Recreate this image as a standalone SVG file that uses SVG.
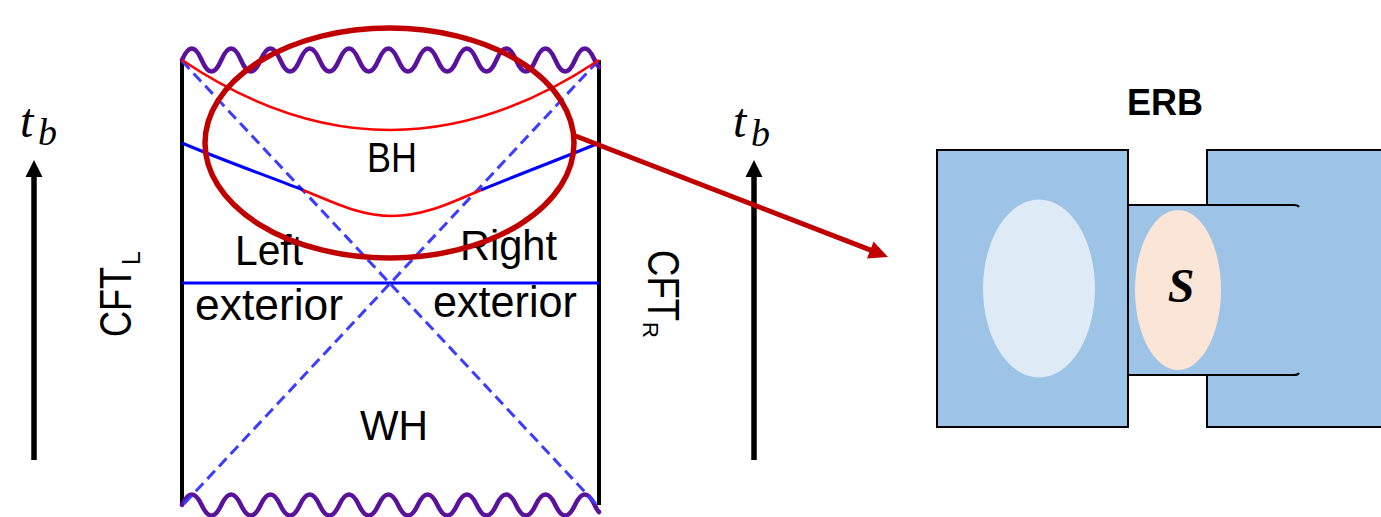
<svg xmlns="http://www.w3.org/2000/svg" width="1381" height="517" viewBox="0 0 1381 517">
<defs>
<style>
.lbl{font-family:"Liberation Sans",Arial,sans-serif;fill:#000}
.math{font-family:"Liberation Serif","Times New Roman",serif;font-style:italic;fill:#000}
.wave{fill:none;stroke:#5a129c;stroke-width:4.5;stroke-linecap:round}
.edge{stroke:#000;stroke-width:4}
.dash{stroke:#3c3cff;stroke-width:3;stroke-dasharray:11 6;fill:none}
.blue{stroke:#0000ff;stroke-width:3;fill:none}
.red{stroke:#ff0000;stroke-width:2.6;fill:none}
.box{fill:#9dc3e6;stroke:#000;stroke-width:2}
</style>
</defs>
<rect x="0" y="0" width="1381" height="517" fill="#fff"/>

<g id="penrose">
<line class="edge" x1="182" y1="60" x2="182" y2="505"/>
<line class="edge" x1="599" y1="60" x2="599" y2="505"/>
<path class="wave" d="M182,60 q9.83,-23 19.65,0 t19.65,0 t19.65,0 t19.65,0 t19.65,0 t19.65,0 t19.65,0 t19.65,0 t19.65,0 t19.65,0 t19.65,0 t19.65,0 t19.65,0 t19.65,0 t19.65,0 t19.65,0 t19.65,0 t19.65,0 t19.65,0 t19.65,0 t19.65,0 q2.2,5 4.35,7"/>
<path class="wave" d="M182,505 q9.83,-21 19.65,0 t19.65,0 t19.65,0 t19.65,0 t19.65,0 t19.65,0 t19.65,0 t19.65,0 t19.65,0 t19.65,0 t19.65,0 t19.65,0 t19.65,0 t19.65,0 t19.65,0 t19.65,0 t19.65,0 t19.65,0 t19.65,0 t19.65,0 t19.65,0 q2.2,5 4.35,7"/>
<line class="dash" x1="182" y1="61" x2="598" y2="506"/>
<line class="dash" x1="598" y1="61" x2="182" y2="506"/>
<line class="blue" x1="182" y1="283" x2="599" y2="283"/>
<path class="blue" d="M182,143 C222,160 262,174 303,190"/>
<path class="blue" d="M481,190 C520,174 560,159 599,143"/>
<path class="red" d="M303,190 C335,203 360,216 392,216 C424,216 450,203 481,190"/>
<path class="red" d="M182,60 Q390,200 599,60"/>
</g>

<g id="labels">
<text class="lbl" x="392" y="172" font-size="42" text-anchor="middle" textLength="50" lengthAdjust="spacingAndGlyphs">BH</text>
<text class="lbl" x="235" y="265" font-size="42" textLength="68" lengthAdjust="spacingAndGlyphs">Left</text>
<text class="lbl" x="460" y="260" font-size="42" textLength="97" lengthAdjust="spacingAndGlyphs">Right</text>
<text class="lbl" x="195" y="320" font-size="44" textLength="148" lengthAdjust="spacingAndGlyphs">exterior</text>
<text class="lbl" x="433" y="317" font-size="44" textLength="144" lengthAdjust="spacingAndGlyphs">exterior</text>
<text class="lbl" x="394" y="440" font-size="42" text-anchor="middle" textLength="68" lengthAdjust="spacingAndGlyphs">WH</text>
</g>

<g id="cft-left">
<text class="lbl" font-size="44" transform="translate(131,337) rotate(-90)" textLength="70" lengthAdjust="spacingAndGlyphs">CFT</text>
<text class="lbl" font-size="25" transform="translate(140,265) rotate(-90)">L</text>
</g>
<g id="cft-right">
<text class="lbl" font-size="44" transform="translate(648,250) rotate(90)" textLength="71" lengthAdjust="spacingAndGlyphs">CFT</text>
<text class="lbl" font-size="22" transform="translate(643,322) rotate(90)">R</text>
</g>

<g id="time-left">
<line x1="34" y1="460" x2="34" y2="174" stroke="#000" stroke-width="5.5"/>
<polygon points="34,160 25.5,177 42.5,177" fill="#000"/>
<text class="math" x="20" y="137" font-size="48">t</text>
<text class="math" x="38" y="145" font-size="38">b</text>
</g>
<g id="time-right">
<line x1="754" y1="460" x2="754" y2="174" stroke="#000" stroke-width="5.5"/>
<polygon points="754,160 745.5,177 762.5,177" fill="#000"/>
<text class="math" x="733" y="137" font-size="48">t</text>
<text class="math" x="751" y="146" font-size="38">b</text>
</g>

<g id="erb">
<text class="lbl" x="1165" y="115" font-size="36" font-weight="bold" text-anchor="middle">ERB</text>
<rect class="box" x="937" y="150" width="191" height="277"/>
<rect class="box" x="1207" y="150" width="200" height="277"/>
<rect x="1128" y="205" width="172" height="170" fill="#9dc3e6"/>
<line x1="1128" y1="150" x2="1128" y2="427" stroke="#000" stroke-width="2"/>
<path d="M1128,205 H1294 q4,0 5,2" fill="none" stroke="#000" stroke-width="2"/>
<path d="M1128,375 H1294 q4,0 5,-2" fill="none" stroke="#000" stroke-width="2"/>
<ellipse cx="1039" cy="288.5" rx="56" ry="89" fill="#deebf7"/>
<ellipse cx="1178" cy="290" rx="43" ry="80" fill="#fbe5d6"/>
<text class="math" x="1181" y="302" font-size="48" font-weight="bold" text-anchor="middle">S</text>
</g>

<g id="connectors">
<ellipse cx="389.5" cy="143" rx="184.5" ry="115" fill="none" stroke="#c00000" stroke-width="5.5"/>
<line x1="573" y1="135" x2="872" y2="250.7" stroke="#c00000" stroke-width="5"/>
<polygon points="888,257 873.6,241.6 867,258.4" fill="#c00000"/>
</g>
</svg>
